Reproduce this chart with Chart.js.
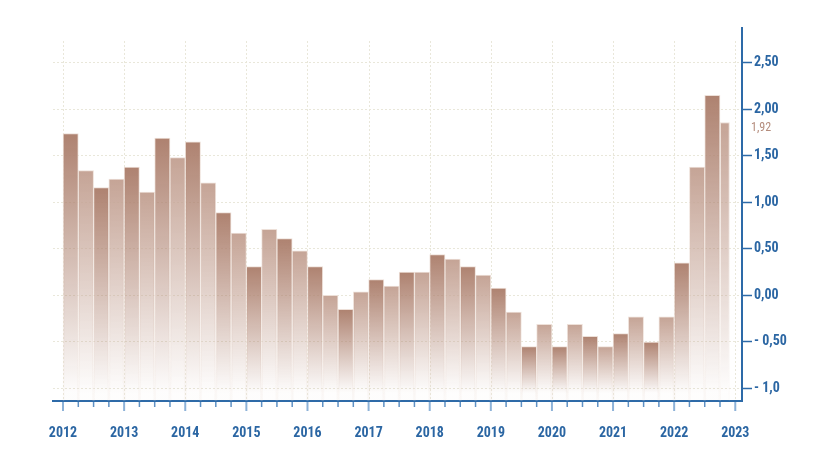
<!DOCTYPE html>
<html>
<head>
<meta charset="utf-8">
<script src="https://cdn.jsdelivr.net/npm/chart.js@4.4.1/dist/chart.umd.min.js"></script>
<style>
  html, body { margin: 0; padding: 0; background: #ffffff; }
  #wrap { width: 827px; height: 469px; position: relative; }
</style>
</head>
<body>
<div id="wrap"><canvas id="c"></canvas></div>
<script>
// ---- data ----
const years = [2012, 2013, 2014, 2015, 2016, 2017, 2018, 2019, 2020, 2021, 2022, 2023];
const quarters = [
  '2012 Q1','2012 Q2','2012 Q3','2012 Q4',
  '2013 Q1','2013 Q2','2013 Q3','2013 Q4',
  '2014 Q1','2014 Q2','2014 Q3','2014 Q4',
  '2015 Q1','2015 Q2','2015 Q3','2015 Q4',
  '2016 Q1','2016 Q2','2016 Q3','2016 Q4',
  '2017 Q1','2017 Q2','2017 Q3','2017 Q4',
  '2018 Q1','2018 Q2','2018 Q3','2018 Q4',
  '2019 Q1','2019 Q2','2019 Q3','2019 Q4',
  '2020 Q1','2020 Q2','2020 Q3','2020 Q4',
  '2021 Q1','2021 Q2','2021 Q3','2021 Q4',
  '2022 Q1','2022 Q2','2022 Q3','2022 Q4'
];
const values = [
  1.74, 1.34, 1.16, 1.25,
  1.38, 1.11, 1.69, 1.48,
  1.65, 1.21, 0.89, 0.67,
  0.31, 0.71, 0.61, 0.48,
  0.31, 0.00, -0.15, 0.04,
  0.17, 0.10, 0.25, 0.25,
  0.44, 0.39, 0.31, 0.22,
  0.08, -0.18, -0.55, -0.31,
  -0.55, -0.31, -0.44, -0.55,
  -0.41, -0.23, -0.50, -0.23,
  0.35, 1.38, 2.15, 1.86
];
const yTickValues = [-1, -0.5, 0, 0.5, 1, 1.5, 2, 2.5];
const yTickLabels = ['- 1,0', '- 0,50', '0,00', '0,50', '1,00', '1,50', '2,00', '2,50'];
const latestLabel = '1,92';

// ---- layout / style constants ----
const Y_MIN = -1.134, Y_MAX = 2.873;
const X_MIN = 2011.836, X_MAX = 2023.11;
const LAST_BAR_FRACTION = 0.64;
const FONT = '"Roboto Condensed", "Liberation Sans Narrow", "Arial Narrow", "Roboto", sans-serif';
const BLUE = '#2b66a3';
const GRID = '#e9e7da';
const DARK_RGB = [174, 130, 112];
const LIGHT_RGB = [197, 164, 150];

function quarterStart(label) {
  const parts = label.split(' Q');
  return Number(parts[0]) + (Number(parts[1]) - 1) / 4;
}
const quarterTicks = [];
for (let i = 0; i < years.length; i++) {
  quarterTicks.push(years[i]);
  if (i < years.length - 1) {
    for (let q = 1; q < 4; q++) quarterTicks.push(years[i] + q / 4);
  }
}
const lastIdx = values.length - 1;
const mainData = quarters.slice(0, lastIdx).map((c, i) => ({ x: quarterStart(c) + 0.125, y: values[i] }));
const lastData = [{ x: quarterStart(quarters[lastIdx]) + 0.125 * LAST_BAR_FRACTION, y: values[lastIdx] }];

function rgba(c, a) { return 'rgba(' + c[0] + ',' + c[1] + ',' + c[2] + ',' + a + ')'; }
function barFill(offset) {
  return (ctx) => {
    const idx = ctx.dataIndex + offset;
    const base = idx % 2 === 0 ? DARK_RGB : LIGHT_RGB;
    const chart = ctx.chart;
    const area = chart.chartArea;
    if (!area || !chart.scales.y || ctx.type !== 'data') return rgba(base, 1);
    const top = chart.scales.y.getPixelForValue(ctx.raw.y);
    const g = chart.ctx.createLinearGradient(0, top, 0, area.bottom - 8);
    g.addColorStop(0, rgba(base, 1));
    g.addColorStop(1, rgba(base, 0.02));
    return g;
  };
}
function barBorder() {
  return (ctx) => {
    const chart = ctx.chart;
    const area = chart.chartArea;
    const c = [236, 222, 214];
    if (!area || !chart.scales.y || ctx.type !== 'data') return rgba(c, 0.8);
    const top = chart.scales.y.getPixelForValue(ctx.raw.y);
    const g = chart.ctx.createLinearGradient(0, top, 0, area.bottom);
    g.addColorStop(0, rgba(c, 0.95));
    g.addColorStop(1, rgba(c, 0.15));
    return g;
  };
}

const decorPlugin = {
  id: 'decor',
  beforeDatasetsDraw(chart) {
    const { ctx, chartArea: a, scales: { x } } = chart;
    ctx.save();
    ctx.strokeStyle = GRID;
    ctx.lineWidth = 1;
    ctx.setLineDash([2, 2]);
    years.forEach(yv => {
      const px = Math.round(x.getPixelForValue(yv)) + 0.5;
      ctx.beginPath();
      ctx.moveTo(px, a.top + 13);
      ctx.lineTo(px, a.bottom);
      ctx.stroke();
    });
    ctx.restore();
  },
  afterDraw(chart) {
    const { ctx, chartArea: a, scales: { x, y } } = chart;
    ctx.save();
    quarterTicks.forEach(v => {
      const isYear = Number.isInteger(v);
      const px = x.getPixelForValue(v);
      ctx.beginPath();
      ctx.strokeStyle = isYear ? '#8db2d8' : '#5f91c4';
      ctx.lineWidth = isYear ? 2 : 1.5;
      ctx.moveTo(px, a.bottom + 1);
      ctx.lineTo(px, a.bottom + (isYear ? 10 : 6));
      ctx.stroke();
    });
    ctx.fillStyle = '#b48c7c';
    ctx.font = '12px ' + FONT;
    ctx.textAlign = 'left';
    ctx.textBaseline = 'top';
    ctx.fillText(latestLabel, a.right + 9, y.getPixelForValue(values[lastIdx]));
    ctx.restore();
  }
};

new Chart(document.getElementById('c'), {
  type: 'bar',
  data: {
    datasets: [
      {
        data: mainData,
        xAxisID: 'x',
        base: Y_MIN,
        grouped: false,
        barPercentage: 1,
        categoryPercentage: 1,
        backgroundColor: barFill(0),
        borderColor: barBorder(),
        borderWidth: 1,
        borderSkipped: 'start'
      },
      {
        data: lastData,
        xAxisID: 'x2',
        base: Y_MIN,
        grouped: false,
        barPercentage: LAST_BAR_FRACTION,
        categoryPercentage: 1,
        backgroundColor: barFill(lastIdx),
        borderColor: barBorder(),
        borderWidth: 1,
        borderSkipped: 'start'
      }
    ]
  },
  options: {
    responsive: true,
    maintainAspectRatio: false,
    animation: false,
    events: [],
    layout: { padding: { left: 53, top: 28, right: 0, bottom: 0 } },
    plugins: { legend: { display: false }, tooltip: { enabled: false } },
    scales: {
      x: {
        type: 'linear',
        position: 'bottom',
        offset: false,
        min: X_MIN,
        max: X_MAX,
        afterBuildTicks: s => { s.ticks = quarterTicks.map(v => ({ value: v })); },
        afterFit: s => { s.height = 68; },
        grid: { display: false, offset: false },
        border: { display: true, color: '#2d6aa8', width: 2 },
        ticks: {
          autoSkip: false,
          maxRotation: 0,
          padding: 16,
          color: BLUE,
          font: { family: FONT, size: 14, weight: 'bold' },
          callback: v => Number.isInteger(v) ? String(v) : ''
        }
      },
      x2: {
        type: 'linear',
        position: 'top',
        offset: false,
        min: X_MIN,
        max: X_MAX,
        afterBuildTicks: s => { s.ticks = quarterTicks.map(v => ({ value: v })); },
        afterFit: s => { s.height = 0; },
        grid: { display: false, offset: false },
        border: { display: false },
        ticks: { display: false }
      },
      y: {
        type: 'linear',
        position: 'right',
        min: Y_MIN,
        max: Y_MAX,
        afterBuildTicks: s => { s.ticks = yTickValues.map(v => ({ value: v })); },
        afterFit: s => { s.width = 85; },
        grid: {
          color: GRID,
          lineWidth: 1,
          drawTicks: true,
          tickLength: 10,
          tickColor: '#2d6aa8',
          tickWidth: 1.5
        },
        border: { display: true, color: '#2d6aa8', width: 2, dash: [2, 2] },
        ticks: {
          padding: 2,
          color: BLUE,
          font: { family: FONT, size: 14, weight: 'bold' },
          callback: v => {
            const i = yTickValues.indexOf(v);
            return i >= 0 ? yTickLabels[i] : '';
          }
        }
      }
    }
  },
  plugins: [decorPlugin]
});
</script>
</body>
</html>
